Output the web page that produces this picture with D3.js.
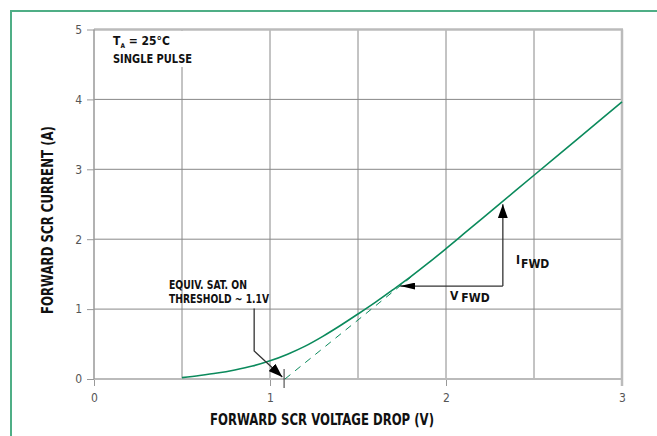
<!DOCTYPE html>
<html>
<head>
<meta charset="utf-8">
<script src="https://cdnjs.cloudflare.com/ajax/libs/d3/7.8.5/d3.min.js"></script>
<style>
  body { margin: 0; background: #fff; }
  svg { display: block; }
  .lbl { font-family: "Liberation Sans Narrow", "DejaVu Sans Condensed", sans-serif; font-weight: bold; fill: #111; }
  .tick text { font-family: "Liberation Sans Narrow", "DejaVu Sans Condensed", sans-serif; font-size: 12px; fill: #555; }
</style>
</head>
<body>
<script>
"use strict";

// values
var xTicks = [0, 1, 2, 3],
    yTicks = [0, 1, 2, 3, 4, 5],
    xGrid = [0.5, 1, 1.5, 2, 2.5],
    yGrid = [1, 2, 3, 4];

var voltage = [0.5, 0.6, 0.7, 0.8, 0.9, 1.0, 1.1, 1.2, 1.3, 1.4, 1.5, 1.6, 1.7, 1.8, 1.9, 2.0, 2.1, 2.3, 2.5, 2.75, 3.0];
var current = [0.02, 0.05, 0.085, 0.13, 0.185, 0.26, 0.355, 0.47, 0.61, 0.765, 0.93, 1.10, 1.28, 1.465, 1.66, 1.865, 2.075, 2.495, 2.915, 3.44, 3.965];

// extrapolated on-threshold line
var tangentV = [1.085, 1.8],
    tangentI = [0, 1.455];

var threshold = 1.08;

function chart(){
  var width = 657, height = 436;
  var svg = d3.select("body").append("svg")
      .attr("width", width)
      .attr("height", height);

  var x = d3.scaleLinear().domain([0, 3]).range([94, 622]);
  var y = d3.scaleLinear().domain([0, 5]).range([379, 29.5]);

  // green frame, top + left only
  svg.append("line").attr("x1", 10).attr("x2", width).attr("y1", 11).attr("y2", 11)
      .style("stroke", "#4fae86").style("stroke-width", 2);
  svg.append("line").attr("x1", 11).attr("x2", 11).attr("y1", 10).attr("y2", height)
      .style("stroke", "#4fae86").style("stroke-width", 2);

  // grid
  svg.append("g").selectAll("line")
      .data(xGrid).enter().append("line")
        .attr("x1", function(d){ return x(d); })
        .attr("x2", function(d){ return x(d); })
        .attr("y1", y(5)).attr("y2", y(0))
        .style("stroke", "#888").style("stroke-width", 1);
  svg.append("g").selectAll("line")
      .data(yGrid).enter().append("line")
        .attr("x1", x(0)).attr("x2", x(3))
        .attr("y1", function(d){ return y(d); })
        .attr("y2", function(d){ return y(d); })
        .style("stroke", "#888").style("stroke-width", 1);

  // axes
  var xAxis = svg.append("g")
      .attr("transform", "translate(0," + y(0) + ")")
      .call(d3.axisBottom(x).tickValues(xTicks).tickSize(7).tickPadding(7).tickFormat(d3.format("d")));
  var yAxis = svg.append("g")
      .attr("transform", "translate(" + x(0) + ",0)")
      .call(d3.axisLeft(y).tickValues(yTicks).tickSize(7).tickPadding(5).tickFormat(d3.format("d")));
  xAxis.select(".domain").remove();
  yAxis.select(".domain").remove();
  xAxis.selectAll(".tick line").style("stroke", "#999");
  yAxis.selectAll(".tick line").style("stroke", "#999");

  // plot border
  svg.append("line").attr("x1", x(0)).attr("x2", x(3) + 1).attr("y1", y(5)).attr("y2", y(5))
      .style("stroke", "#bbb").style("stroke-width", 2.5);
  svg.append("line").attr("x1", x(3)).attr("x2", x(3)).attr("y1", y(5)).attr("y2", y(0) + 7)
      .style("stroke", "#bbb").style("stroke-width", 2.5);
  svg.append("line").attr("x1", x(0)).attr("x2", x(3)).attr("y1", y(0)).attr("y2", y(0))
      .style("stroke", "#bbb").style("stroke-width", 2);
  svg.append("line").attr("x1", x(0)).attr("x2", x(0)).attr("y1", y(5)).attr("y2", y(0))
      .style("stroke", "#999").style("stroke-width", 1.5);

  // conditions box
  svg.append("rect").attr("x", 100).attr("y", 31).attr("width", 100).attr("height", 36)
      .style("fill", "#fff");
  var ta = svg.append("text").attr("class", "lbl").attr("x", 113).attr("y", 44.5).style("font-size", "12px");
  ta.append("tspan").text("T");
  ta.append("tspan").attr("dy", 3.5).style("font-size", "6.5px").text("A");
  ta.append("tspan").attr("dy", -3.5).text(" = 25°C");
  svg.append("text").attr("class", "lbl").attr("x", 113).attr("y", 62.5)
      .attr("textLength", 79).attr("lengthAdjust", "spacingAndGlyphs")
      .style("font-size", "12px").text("SINGLE PULSE");

  // curves
  var pts = voltage.map(function(v, i){ return [v, current[i]]; });
  svg.append("path")
      .datum(pts)
      .attr("d", d3.line()
          .x(function(d){ return x(d[0]); })
          .y(function(d){ return y(d[1]); })
          .curve(d3.curveMonotoneX))
      .style("fill", "none")
      .style("stroke", "#0b8a5c")
      .style("stroke-width", 1.6);

  svg.append("path")
      .datum(tangentV.map(function(v, i){ return [v, tangentI[i]]; }))
      .attr("d", d3.line()
          .x(function(d){ return x(d[0]); })
          .y(function(d){ return y(d[1]); }))
      .style("fill", "none")
      .style("stroke", "#0b8a5c")
      .style("stroke-width", 1)
      .style("stroke-dasharray", "7,6");

  // threshold marker
  svg.append("line").attr("x1", x(threshold)).attr("x2", x(threshold))
      .attr("y1", y(0) - 10).attr("y2", y(0) + 9)
      .style("stroke", "#333").style("stroke-width", 1);

  // arrow heads
  var defs = svg.append("defs");
  defs.append("marker").attr("id", "head")
      .attr("viewBox", "0 0 14 10").attr("refX", 14).attr("refY", 5)
      .attr("markerWidth", 14).attr("markerHeight", 10)
      .attr("markerUnits", "userSpaceOnUse")
      .attr("orient", "auto")
    .append("path").attr("d", "M0,0 L14,5 L0,10 Z").style("fill", "#000");
  defs.append("marker").attr("id", "headThin")
      .attr("viewBox", "0 0 15 7").attr("refX", 15).attr("refY", 3.5)
      .attr("markerWidth", 15).attr("markerHeight", 7)
      .attr("markerUnits", "userSpaceOnUse")
      .attr("orient", "auto")
    .append("path").attr("d", "M0,0 L15,3.5 L0,7 Z").style("fill", "#000");

  // threshold label + arrow
  svg.append("text").attr("class", "lbl").attr("x", 169).attr("y", 288.5)
      .attr("textLength", 78).attr("lengthAdjust", "spacingAndGlyphs")
      .style("font-size", "12px").text("EQUIV. SAT. ON");
  svg.append("text").attr("class", "lbl").attr("x", 169).attr("y", 302.5)
      .attr("textLength", 100).attr("lengthAdjust", "spacingAndGlyphs")
      .style("font-size", "12px").text("THRESHOLD ~ 1.1V");
  svg.append("path")
      .attr("d", "M" + x(0.91) + "," + y(1.01) + " L" + x(0.91) + "," + y(0.40) + " L" + x(1.07) + "," + y(0.03))
      .style("fill", "none").style("stroke", "#333").style("stroke-width", 1.3)
      .attr("marker-end", "url(#head)");

  // I_FWD / V_FWD construction
  svg.append("path")
      .attr("d", "M" + x(2.323) + "," + y(1.33) + " L" + x(2.323) + "," + y(2.50))
      .style("fill", "none").style("stroke", "#333").style("stroke-width", 1.3)
      .attr("marker-end", "url(#head)");
  svg.append("path")
      .attr("d", "M" + x(2.323) + "," + y(1.33) + " L" + x(1.74) + "," + y(1.33))
      .style("fill", "none").style("stroke", "#333").style("stroke-width", 1.3)
      .attr("marker-end", "url(#headThin)");

  var iF = svg.append("text").attr("class", "lbl").attr("x", 516).attr("y", 264).style("font-size", "12px");
  iF.append("tspan").text("I");
  iF.append("tspan").attr("dx", 1).attr("dy", 4).text("FWD");
  var vF = svg.append("text").attr("class", "lbl").attr("x", 450).attr("y", 300).style("font-size", "12px");
  vF.append("tspan").text("V");
  vF.append("tspan").attr("dx", 3).attr("dy", 2).text("FWD");

  // axis titles
  svg.append("text").attr("class", "lbl")
      .attr("x", 322).attr("y", 425)
      .attr("text-anchor", "middle")
      .attr("textLength", 224).attr("lengthAdjust", "spacingAndGlyphs")
      .style("font-size", "16px")
      .text("FORWARD SCR VOLTAGE DROP (V)");
  svg.append("text").attr("class", "lbl")
      .attr("transform", "translate(53,220) rotate(-90)")
      .attr("text-anchor", "middle")
      .attr("textLength", 188).attr("lengthAdjust", "spacingAndGlyphs")
      .style("font-size", "16px")
      .text("FORWARD SCR CURRENT (A)");
}

chart();
</script>
</body>
</html>
